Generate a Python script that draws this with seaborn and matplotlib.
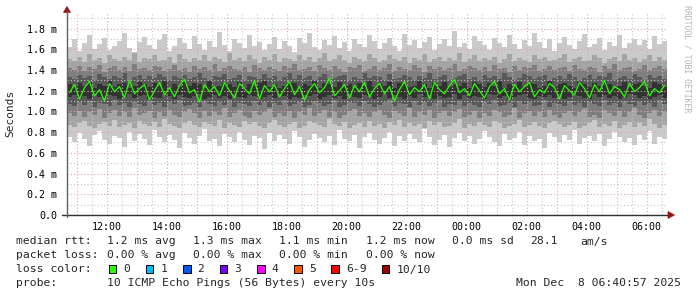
import numpy as np
import pandas as pd
import matplotlib
matplotlib.use("Agg")
import matplotlib.pyplot as plt
import matplotlib.dates as mdates
from matplotlib.ticker import MultipleLocator, FuncFormatter
from matplotlib.patches import Polygon, Rectangle
from matplotlib.lines import Line2D
import seaborn as sns

# ---------------- data (round-trip times in units of 0.01 ms) ----------------
START = "2025-12-07 10:40:57"
END = "2025-12-08 06:40:57"

MEDIAN = [118,126,112,123,129,115,121,110,127,119,124,113,130,117,122,126,111,120,128,116,
          123,114,125,131,118,121,109,126,119,124,115,128,120,113,127,122,117,130,112,125,
          119,126,114,122,129,116,124,111,121,127,118,123,132,115,120,126,113,125,119,128,
          114,122,127,117,124,110,121,129,116,123,119,126,112,128,121,117,125,131,118,122,
          115,127,120,113,124,129,117,122,111,126,119,124,128,114,121,118,127,123,112,125,
          120,116,128,122,113,126,119,130,117,124,121,114,127,119,123,129,115,122,118,125]

PING10 = [162,170,158,166,174,160,165,171,159,163,168,176,161,157,167,172,164,160,169,175,
          158,163,171,166,160,173,165,159,168,162,177,164,158,170,166,161,174,163,167,159,
          165,172,160,168,163,157,171,166,176,162,159,169,164,173,161,167,158,170,165,162,
          174,168,160,166,171,163,158,175,164,169,161,167,172,159,165,170,163,178,162,166,
          160,173,168,164,159,171,166,162,174,165,160,169,163,176,167,161,170,158,166,172,
          164,160,168,175,162,165,171,159,167,163,174,161,166,170,164,169,160,173,165,168]
PING9 = [151,149,153,148,155,150,152,147,154,151,149,153,150,156,148,152,151,154,149,150,
         153,147,155,151,148,152,150,154,149,153,151,148,156,150,152,149,154,151,147,153,
         150,155,148,152,151,149,154,150,153,148,152,156,149,151,154,150,147,153,151,149,
         155,152,148,150,154,151,149,153,147,152,150,155,148,151,153,149,152,150,156,148,
         151,154,149,152,150,153,147,151,155,149,152,150,148,154,151,153,149,150,152,155,
         148,151,153,149,150,154,152,147,151,153,149,155,150,152,148,151,154,149,153,150]
PING8 = [142,140,144,139,143,141,145,138,142,144,140,143,139,146,141,142,140,144,143,139,
         141,145,140,142,138,144,141,143,140,146,139,142,144,141,140,143,138,145,142,140,
         143,141,139,144,142,146,140,141,143,139,145,142,140,144,141,138,143,142,145,139,
         141,144,140,142,146,139,143,141,140,145,142,138,144,141,143,140,142,146,139,141,
         144,142,140,143,139,145,141,142,138,144,140,143,142,145,139,141,144,140,142,143,
         139,145,141,140,143,142,138,144,141,146,140,142,143,139,141,145,140,142,144,141]
PING7 = [133,131,135,132,134,130,136,133,131,134,132,137,130,133,135,131,134,132,136,133,
         130,134,132,135,131,133,137,132,130,134,133,136,131,132,135,130,134,133,131,136,
         132,134,130,133,137,131,135,132,134,130,133,136,131,132,134,135,130,133,131,137,
         132,134,133,130,136,131,132,135,133,130,134,132,137,131,133,135,130,132,134,136,
         131,133,130,135,132,134,131,137,133,130,132,136,134,131,133,135,130,132,134,131,
         136,133,130,132,135,131,134,133,137,130,132,134,131,136,133,130,135,132,134,131]
PING6 = [126,124,127,125,128,123,126,125,129,124,126,127,123,125,128,126,124,127,125,129,
         123,126,124,128,125,127,126,123,129,124,125,127,126,124,128,123,126,125,127,129,
         124,126,123,125,128,127,124,126,125,129,123,127,126,124,128,125,126,123,127,125,
         129,124,126,125,128,123,127,126,124,125,129,126,123,127,125,128,124,126,125,127,
         123,128,126,124,127,125,129,123,126,125,128,124,127,126,123,125,129,124,126,127,
         125,123,128,126,124,127,125,129,126,123,125,128,124,126,127,125,123,128,126,124]
PING5 = [114,116,113,115,112,117,114,113,116,115,112,114,117,113,115,116,112,114,113,117,
         115,112,116,114,113,115,117,112,114,116,113,115,112,117,114,113,116,115,112,114,
         116,113,117,115,112,114,113,116,115,117,112,114,116,113,115,112,117,114,113,116,
         115,112,114,117,113,116,114,112,115,113,117,114,116,112,115,113,114,117,112,116,
         113,115,114,112,117,116,113,115,112,114,116,117,113,112,115,114,116,113,117,112,
         114,116,115,113,112,117,114,116,113,115,112,114,117,116,113,115,112,114,116,113]
PING4 = [107,105,109,106,110,104,108,107,105,111,106,108,104,109,107,105,110,106,108,104,
         109,107,111,105,106,108,104,110,107,105,109,106,111,104,108,107,105,110,106,109,
         104,108,106,111,105,107,109,104,106,110,108,105,107,111,104,106,109,108,105,110,
         107,104,106,109,111,105,108,107,104,110,106,109,105,108,111,104,107,106,110,105,
         108,106,104,109,107,111,105,106,108,104,110,107,109,105,106,111,104,108,107,105,
         110,106,108,104,109,107,105,111,106,108,104,110,107,105,109,106,108,104,111,107]
PING3 = [98,96,100,95,99,97,102,94,98,101,96,99,95,103,97,98,100,94,99,96,
         101,97,95,99,102,98,94,100,96,99,97,103,95,98,101,96,94,100,97,99,
         102,95,98,96,100,94,99,97,103,96,98,101,95,99,94,97,100,102,96,98,
         95,99,101,97,94,100,98,96,103,95,99,97,101,94,98,100,96,99,102,95,
         97,100,94,98,96,101,99,95,97,103,94,98,100,96,99,95,101,97,94,98,
         100,96,99,102,95,97,94,101,98,96,100,95,99,103,97,94,98,101,96,99]
PING2 = [87,85,89,91,86,84,88,90,86,92,85,87,89,84,91,88,86,90,85,93,
         88,86,84,89,91,87,85,90,88,86,92,84,89,87,85,91,88,90,86,84,
         89,92,87,85,88,90,84,86,91,89,87,85,93,88,86,90,84,87,89,85,
         91,86,88,84,90,87,92,85,89,86,88,84,91,87,90,85,86,89,93,84,
         88,86,90,87,85,91,89,84,86,88,92,85,87,90,86,84,89,91,88,85,
         87,90,84,86,89,92,85,88,86,91,84,87,90,85,89,86,93,88,84,87]
PING1 = [75,70,79,73,67,77,81,72,69,76,74,66,80,71,78,73,68,82,75,70,
         77,72,65,79,74,69,76,83,71,73,67,78,75,70,80,72,68,76,74,64,
         79,71,77,73,69,81,75,66,72,78,74,70,76,68,82,73,71,77,65,75,
         79,72,69,74,80,67,76,71,78,73,70,83,75,68,72,77,66,74,79,71,
         76,69,73,81,75,70,67,78,72,74,80,68,76,71,73,65,79,75,70,77,
         72,82,69,74,76,71,78,67,73,80,75,70,74,68,77,72,81,69,75,73]

SMOKE_GRAYS = ["#cacaca", "#a4a4a4", "#7e7e7e", "#585858", "#323232"]
LOSS_LABELS = ["0", "1", "2", "3", "4", "5", "6-9", "10/10"]
LOSS_COLORS = ["#26ff00", "#00b8ff", "#0059ff", "#7e00ff", "#ff00ff", "#ff5500", "#ff0000", "#a10000"]
RTT_STATS = ["1.2 ms avg", "1.3 ms max", "1.1 ms min", "1.2 ms now", "0.0 ms sd", "28.1", "am/s"]
LOSS_STATS = ["0.00 % avg", "0.00 % max", "0.00 % min", "0.00 % now"]
PROBE = "10 ICMP Echo Pings (56 Bytes) every 10s"
STAMP = "Mon Dec  8 06:40:57 2025"
Y_LABEL = "Seconds"
WATERMARK = "RRDTOOL / TOBI OETIKER"
UNIT = 0.01  # ms per stored unit

# ---------------- figure ----------------
sns.set_theme(style="white")
plt.rcParams['font.family'] = ['DejaVu Sans Mono', 'DejaVu Sans']

W, H = 697, 297
fig = plt.figure(figsize=(W / 100, H / 100), dpi=100)
fig.patch.set_facecolor("white")
L, R, B, T = 67, 667, 215, 13
ax = fig.add_axes([L / W, 1 - B / H, (R - L) / W, (B - T) / H])
ax.set_facecolor("white")

def fx(x):
    return x / W

def fy(y):
    return 1 - y / H

N = len(MEDIAN)
edges = pd.date_range(START, END, periods=N + 1)
xnum = mdates.date2num(edges.to_pydatetime())
xmid = (xnum[:-1] + xnum[1:]) / 2

def ext(vals):
    a = np.asarray(vals, dtype=float) * UNIT
    return np.append(a, a[-1])

pings = [PING1, PING2, PING3, PING4, PING5, PING6, PING7, PING8, PING9, PING10]
for i, col in enumerate(SMOKE_GRAYS):
    lo = ext(pings[i])
    hi = ext(pings[9 - i])
    ax.fill_between(xnum, lo, hi, step="post", color=col, linewidth=0, zorder=1)

df = pd.DataFrame({"t": xmid, "median": np.asarray(MEDIAN, dtype=float) * UNIT})
sns.lineplot(data=df, x="t", y="median", ax=ax, color=LOSS_COLORS[0],
             linewidth=0.9, estimator=None, zorder=4)

ax.set_xlim(xnum[0], xnum[-1])
ax.set_ylim(0, 1.95)

# grid & ticks
ax.xaxis.set_major_locator(mdates.HourLocator(interval=1))
ax.xaxis.set_minor_locator(mdates.MinuteLocator(byminute=[0, 30]))
ax.xaxis.set_major_formatter(FuncFormatter(
    lambda v, p: mdates.num2date(v).strftime("%H:%M") if mdates.num2date(v).hour % 2 == 0 else ""))
ax.yaxis.set_major_locator(MultipleLocator(0.2))
ax.yaxis.set_minor_locator(MultipleLocator(0.1))
ax.yaxis.set_major_formatter(FuncFormatter(lambda v, p: "0.0" if abs(v) < 1e-9 else f"{v:.1f} m"))

ax.set_axisbelow(False)
ax.grid(which="minor", color="#c8c8c8", linestyle=(0, (1, 2)), linewidth=0.8)
ax.grid(which="major", color="#e3a3a3", linestyle=(0, (1, 2)), linewidth=0.8)
ax.tick_params(axis="both", which="major", length=2, width=0.8, color="#404040",
               labelsize=7.2, labelcolor="black")
ax.tick_params(axis="both", which="minor", length=0)
ax.tick_params(axis="y", pad=5)
ax.tick_params(axis="x", pad=3)
for lab in ax.get_xticklabels() + ax.get_yticklabels():
    lab.set_family("DejaVu Sans Mono")
ax.set_xlabel("")
ax.set_ylabel("")
for s in ax.spines.values():
    s.set_visible(False)

# axes with arrows (rrdtool style)
axis_col = "#303030"
arrow_col = "#a01010"
fig.add_artist(Line2D([fx(62), fx(668)], [fy(215), fy(215)], color=axis_col, lw=1.0))
fig.add_artist(Line2D([fx(67), fx(67)], [fy(217), fy(11)], color="#606060", lw=1.0))
fig.add_artist(Polygon([[fx(63.5), fy(12.5)], [fx(70.5), fy(12.5)], [fx(67), fy(6.5)]],
                       closed=True, transform=fig.transFigure, fc=arrow_col, ec=arrow_col, lw=0.5))
fig.add_artist(Polygon([[fx(668), fy(211.5)], [fx(668), fy(218.5)], [fx(674.5), fy(215)]],
                       closed=True, transform=fig.transFigure, fc=arrow_col, ec=arrow_col, lw=0.5))

# labels
fig.text(fx(10.7), fy(113.5), Y_LABEL, rotation=90, ha="center", va="center", fontsize=8)
fig.text(fx(687), fy(5), WATERMARK, rotation=270, ha="center", va="top", fontsize=5.9, color="#b4b4b4")

LEG = 8.2
rows_y = [241.5, 255.5, 269.5, 283.5]
fig.text(fx(16), fy(rows_y[0]), "median rtt:", ha="left", va="center", fontsize=LEG)
for xp, s in zip([107, 193, 279, 366, 452, 530, 580], RTT_STATS):
    fig.text(fx(xp), fy(rows_y[0]), s, ha="left", va="center", fontsize=LEG)
fig.text(fx(16), fy(rows_y[1]), "packet loss:", ha="left", va="center", fontsize=LEG)
for xp, s in zip([107, 193, 279, 366], LOSS_STATS):
    fig.text(fx(xp), fy(rows_y[1]), s, ha="left", va="center", fontsize=LEG)
fig.text(fx(16), fy(rows_y[2]), "loss color:", ha="left", va="center", fontsize=LEG)
box_x = [108.5, 145.7, 183, 220, 257.3, 294.3, 331.3, 381.7]
for bx, lab, col in zip(box_x, LOSS_LABELS, LOSS_COLORS):
    fig.add_artist(Rectangle((fx(bx), fy(273)), 7.5 / W, 8 / H, transform=fig.transFigure,
                             fc=col, ec="black", lw=0.7))
    fig.text(fx(bx + 14.5), fy(rows_y[2]), lab, ha="left", va="center", fontsize=LEG)
fig.text(fx(16), fy(rows_y[3]), "probe:", ha="left", va="center", fontsize=LEG)
fig.text(fx(107), fy(rows_y[3]), PROBE, ha="left", va="center", fontsize=LEG)
fig.text(fx(681), fy(rows_y[3]), STAMP, ha="right", va="center", fontsize=LEG)

fig.savefig("out.png", dpi=100, facecolor="white")
